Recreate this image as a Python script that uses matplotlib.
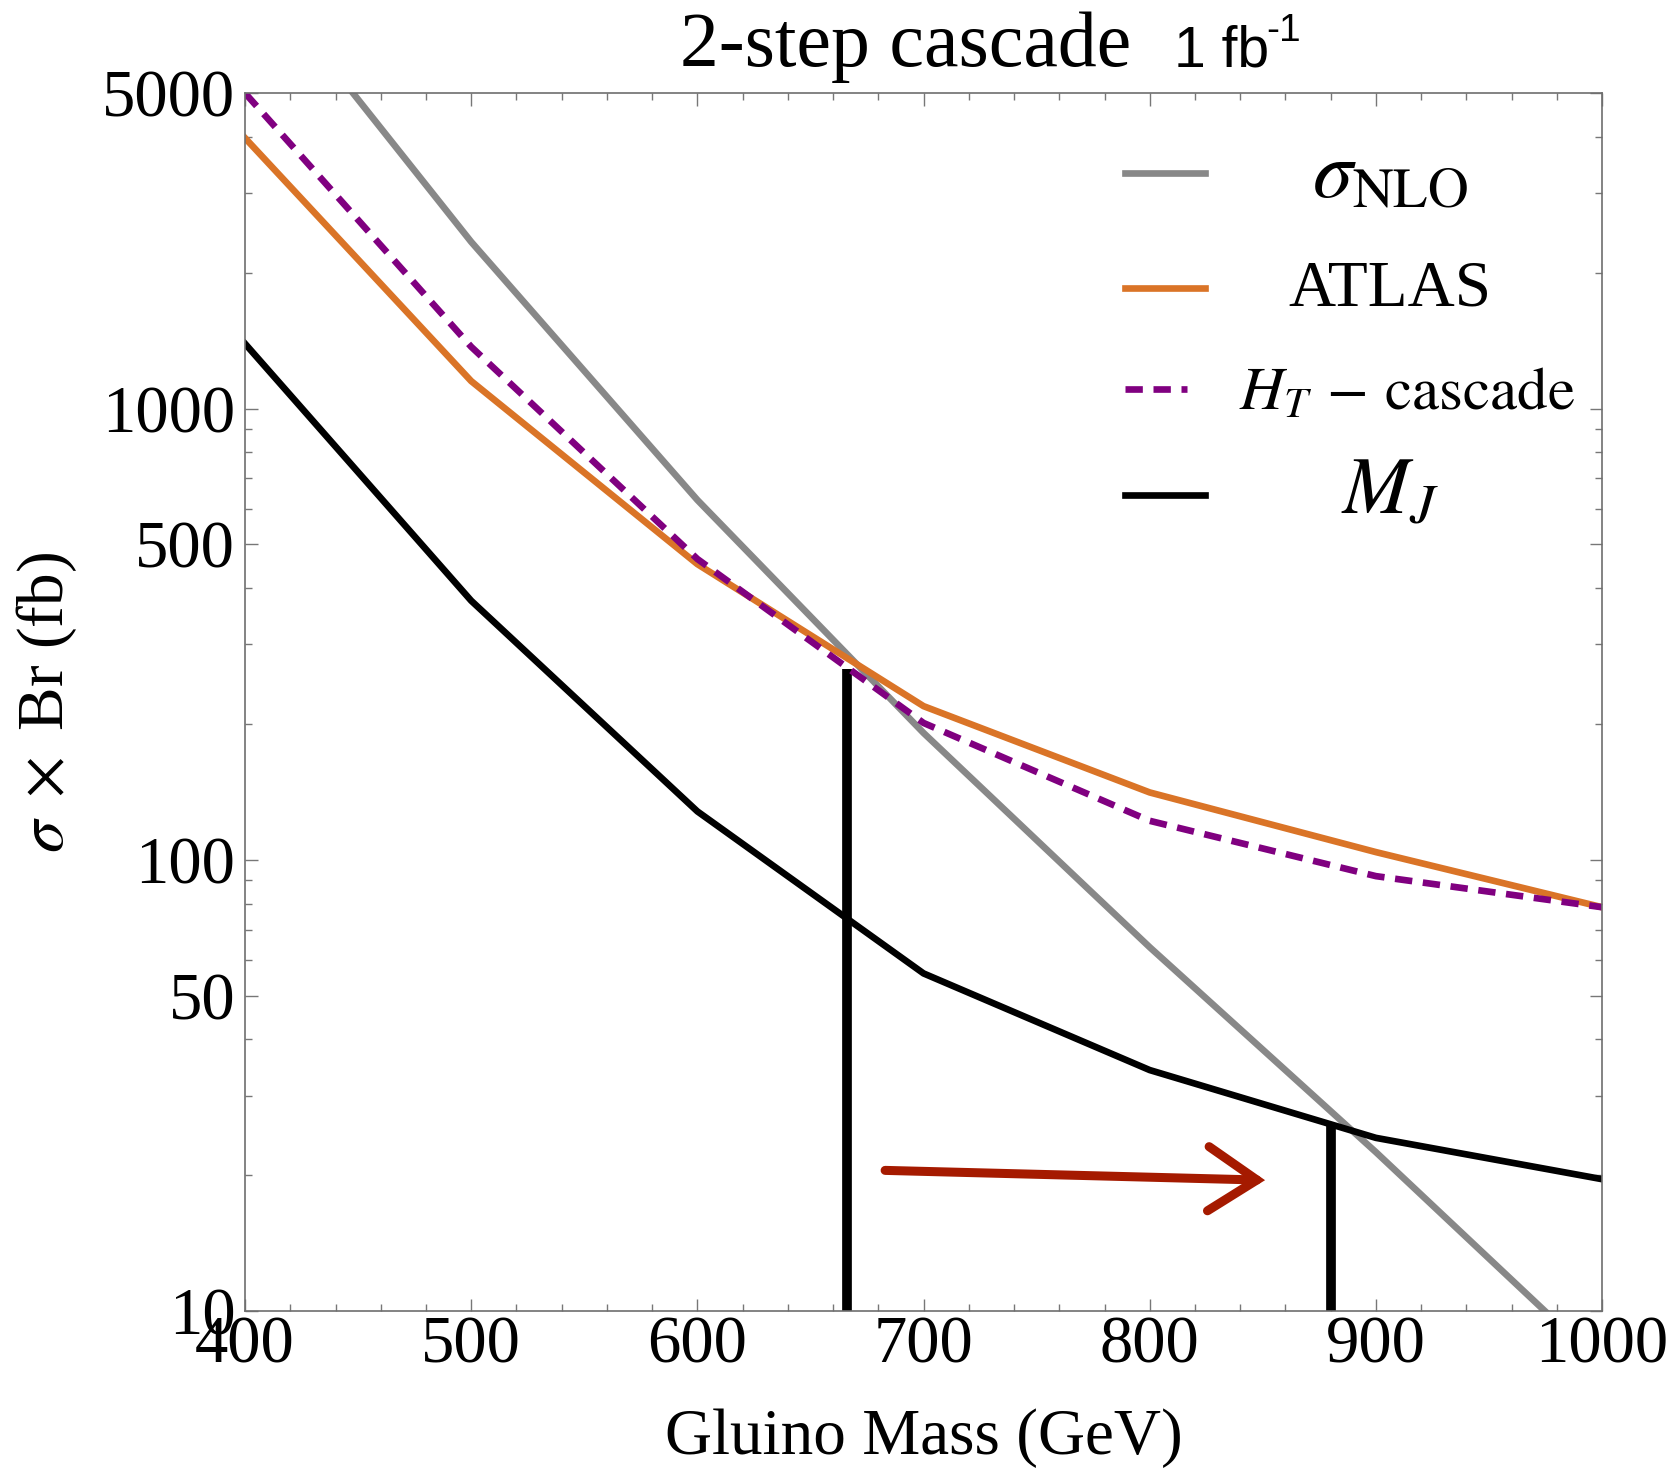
import numpy as np
import matplotlib.pyplot as plt
from matplotlib.patches import FancyArrowPatch
from matplotlib.lines import Line2D
from matplotlib.ticker import NullFormatter

plt.rcParams['font.family'] = ['Liberation Serif', 'DejaVu Serif']
plt.rcParams['mathtext.fontset'] = 'stix'

# Gluino mass points (GeV)
mass = [400, 500, 600, 700, 800, 900, 1000]

# Cross sections x Br (fb)
sigma_nlo = [10000, 2340, 627, 191, 64, 22.5, 7.6]
atlas = [3975, 1150, 452, 219, 141, 104, 78.5]
ht_cascade = [5000, 1370, 464, 201, 122, 92, 78.5]
mj = [1392, 375, 128, 56, 34.2, 24.2, 19.6]

# Exclusion limits (where sigma_NLO crosses the limit curves)
limit_mass = [666, 880]
limit_xsec = [265, 26]

# Arrow showing the improvement
arrow_from = (683, 20.5)
arrow_to = (851, 19.5)

xticks = [400, 500, 600, 700, 800, 900, 1000]
yticks = [10, 50, 100, 500, 1000, 5000]
yticks_minor = [20, 30, 40, 60, 70, 80, 90, 200, 300, 400, 600, 700, 800, 900,
                2000, 3000, 4000]

c_grey = '#888888'
c_orange = '#DA7427'
c_purple = '#800080'
c_arrow = '#A51A00'
lw = 4.8
dash = (0, (2.6, 1.6))

fig = plt.figure(figsize=(16.76, 14.68), dpi=100)
ax = fig.add_axes([0.1462, 0.1069, 0.8097, 0.8297])

ax.plot(mass, sigma_nlo, color=c_grey, lw=lw)
ax.vlines(limit_mass, 10, limit_xsec, color='black', lw=7)
ax.plot(mass, atlas, color=c_orange, lw=lw)
ax.plot(mass, ht_cascade, color=c_purple, lw=lw, linestyle=dash)
ax.plot(mass, mj, color='black', lw=lw)

arr = FancyArrowPatch(arrow_from, arrow_to, arrowstyle='->,head_length=0.5,head_width=0.33',
                      mutation_scale=70, color=c_arrow, lw=6.5, shrinkA=0, shrinkB=0,
                      capstyle='round', joinstyle='miter')
ax.add_patch(arr)

ax.set_yscale('log')
ax.set_xlim(400, 1000)
ax.set_ylim(10, 5000)

ax.set_xticks(xticks)
ax.set_xticklabels([str(v) for v in xticks])
ax.set_xticks(np.arange(400, 1001, 20), minor=True)
ax.set_yticks(yticks)
ax.set_yticklabels([str(v) for v in yticks])
ax.set_yticks(yticks_minor, minor=True)
ax.yaxis.set_minor_formatter(NullFormatter())

ax.tick_params(which='both', direction='in', top=True, right=True,
               color='#777777', width=1.0, labelsize=48)
ax.tick_params(which='major', length=9)
ax.tick_params(which='minor', length=5)
ax.tick_params(axis='x', pad=3)
ax.tick_params(axis='y', pad=7)
for s in ax.spines.values():
    s.set_color('#6e6e6e')
    s.set_linewidth(1.2)

# axis labels
xl = ax.set_xlabel('Gluino Mass (GeV)', fontsize=47)
ax.xaxis.set_label_coords(0.5, -0.117)
xl.set_va('baseline')
ax.set_ylabel(r'$\sigma\;\times$ Br (fb)', fontsize=47)
ax.yaxis.set_label_coords(-0.122, 0.5)

# title: serif part + sans luminosity
fig.text(0.4057, 0.955, '2-step cascade', fontsize=56, ha='left', va='baseline')
fig.text(0.7005, 0.955, '1 fb', fontsize=41, family='Liberation Sans', ha='left', va='baseline')
fig.text(0.7555, 0.972, '-1', fontsize=28, family='Liberation Sans', ha='left', va='baseline')

# legend drawn by hand so the labels are centred
legend_items = [
    (c_grey, '-', r'$\sigma_{\rm NLO}$', 58, 0.8438),
    (c_orange, '-', 'ATLAS', 47, 0.8438),
    (c_purple, dash, r'$H_T\,-\,\mathrm{cascade}$', 44, 0.856),
    ('black', '-', r'$M_J$', 58, 0.8438),
]
row_y = [0.9343, 0.8399, 0.757, 0.670]
text_y = [0.9138, 0.826, 0.7397, 0.655]
for (col, ls, lab, fs, tx), ly, ty in zip(legend_items, row_y, text_y):
    x1 = 0.694 if ls == dash else 0.7074
    ax.add_line(Line2D([0.6485, x1], [ly, ly], color=col, lw=lw, linestyle=ls,
                       transform=ax.transAxes))
    ax.text(tx, ty, lab, transform=ax.transAxes, fontsize=fs, ha='center', va='baseline')

plt.savefig('out.png', dpi=100)
